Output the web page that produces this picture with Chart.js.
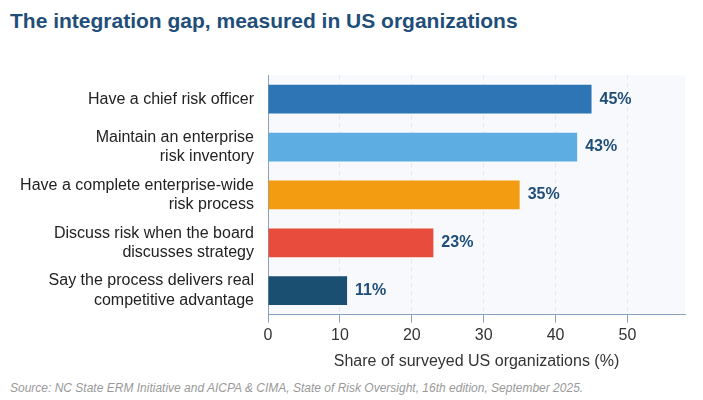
<!DOCTYPE html>
<html><head><meta charset="utf-8">
<script src="https://cdn.jsdelivr.net/npm/chart.js@4/dist/chart.umd.min.js"></script>
<style>
body{margin:0;width:703px;height:400px;background:#fff;font-family:"Liberation Sans",Arial,sans-serif;position:relative;overflow:hidden}
#t{position:absolute;left:10px;top:9px;font-size:21px;font-weight:bold;color:#1f4e79}
#s{position:absolute;left:10px;top:381px;font-size:12px;font-style:italic;color:#999}
#w{position:absolute;left:0;top:50px;width:703px;height:325px}
</style></head><body>
<div id="t">The integration gap, measured in US organizations</div>
<div id="w"><canvas id="c"></canvas></div>
<div id="s">Source: NC State ERM Initiative and AICPA &amp; CIMA, State of Risk Oversight, 16th edition, September 2025.</div>
<script>
Chart.defaults.font.family='"Liberation Sans", Arial, sans-serif';
const categories=[["Have a chief risk officer"],["Maintain an enterprise","risk inventory"],["Have a complete enterprise-wide","risk process"],["Discuss risk when the board","discusses strategy"],["Say the process delivers real","competitive advantage"]];
const values=[45,43,35,23,11];
const colors=["#2e75b6","#5dade2","#f39c12","#e74c3c","#1b4f72"];
const bg={id:'bg',beforeDraw(c){const a=c.chartArea,x=c.ctx;x.save();x.fillStyle='#f7f9fd';x.fillRect(a.left,a.top,a.right-a.left,a.bottom-a.top);x.restore();}};
const lbl={id:'lbl',afterDatasetsDraw(c){const x=c.ctx;x.save();x.font='bold 16px "Liberation Sans", Arial';x.fillStyle='#1f4e79';x.textBaseline='middle';
c.getDatasetMeta(0).data.forEach((b,i)=>{x.fillText(values[i]+'%',b.x+8,b.y);});x.restore();}};
new Chart(document.getElementById('c'),{type:'bar',
data:{labels:categories,datasets:[{data:values,backgroundColor:colors,barPercentage:0.6,categoryPercentage:1}]},
options:{indexAxis:'y',responsive:true,maintainAspectRatio:false,animation:false,
layout:{padding:{right:18,top:8}},
plugins:{legend:{display:false},tooltip:{enabled:false}},
scales:{x:{min:0,max:58,afterBuildTicks(a){a.ticks=a.ticks.filter(t=>t.value%10===0);},ticks:{stepSize:10,color:'#333',font:{size:16}},
 grid:{color:'#e3e6ec',tickColor:'#8aa0c0',drawTicks:true},border:{color:'#8aa0c0',dash:[4,4]},
 title:{display:true,text:'Share of surveyed US organizations (%)',color:'#333',font:{size:16}}},
y:{afterFit(a){a.width=268;},ticks:{color:'#222',font:{size:16},padding:6},grid:{display:false,tickColor:'#8aa0c0'},border:{color:'#8aa0c0'}}}},
plugins:[bg,lbl]});
</script></body></html>
